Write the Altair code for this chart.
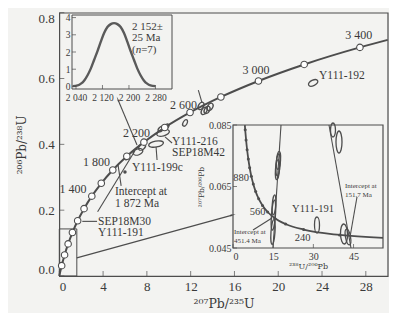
import altair as alt
import pandas as pd

SERIF = "Liberation Serif"
SUPF = "DejaVu Serif"
INK = "#3a3a3a"
LINE = "#4d4d4d"
BG = "#f3f3f1"
W, H = 328.4, 263.3

# ---------------- main concordia (207Pb/235U vs 206Pb/238U)
conc_age = [0, 200, 400, 600, 800, 1000, 1200, 1400, 1600, 1800, 2000, 2200, 2400,
            2600, 2800, 3000, 3200, 3400, 3487]
conc_x = [0.0, 0.2177, 0.4828, 0.8056, 1.1987, 1.6774, 2.2603, 2.9701, 3.8344, 4.8869,
          6.1685, 7.7292, 9.6296, 11.9436, 14.7617, 18.1931, 22.3716, 27.4596, 30.0]
conc_y = [0.0, 0.03151, 0.06402, 0.09754, 0.13213, 0.16781, 0.20460, 0.24256, 0.28174,
          0.32212, 0.36377, 0.40674, 0.45107, 0.49679, 0.54396, 0.59261, 0.64280, 0.69456, 0.7175]

age_lab = ["1 400", "1 800", "2 200", "2 600", "3 000", "3 400"]
age_lab_x = [1.25, 3.40, 7.06, 11.35, 17.98, 27.35]
age_lab_y = [0.2644, 0.3465, 0.4347, 0.5198, 0.6261, 0.7325]

ell_x = [23.19, 12.95, 13.23, 13.50, 13.78, 11.49, 9.48, 8.84, 7.19, 7.56, 9.30, 9.75, 6.19]
ell_y = [0.5866, 0.5167, 0.5015, 0.5046, 0.5137, 0.465, 0.4347, 0.401, 0.377, 0.392, 0.447, 0.453, 0.3587]
ell_w = [10, 8, 8, 8, 8, 7, 13, 15, 10, 8, 7, 7, 5]
ell_h = [5.5, 5, 5, 5, 5, 4, 6, 6, 6, 5, 4, 4, 3]
ell_a = [335, 300, 300, 300, 300, 300, 345, 350, 340, 320, 320, 320, 330]

dot_x = [6.0]
dot_y = [0.316]

note_txt = ["Y111-192", "Y111-216", "SEP18M42", "Y111-199c", "Intercept at", "1 872 Ma",
            "SEP18M30", "Y111-191"]
note_x = [23.73, 10.3, 10.3, 6.645, 5.09, 5.09, 3.54, 3.54]
note_y = [0.6079, 0.4060, 0.3725, 0.3283, 0.2565, 0.2188, 0.1650, 0.1320]

seg_x1 = [9.66, 8.84, 2.10, 5.65, 12.70, 3.50, 7.10, 1.60]
seg_y1 = [0.4225, 0.3921, 0.166, 0.2740, 0.565, 0.195, 0.398, 0.055]
seg_x2 = [10.30, 8.93, 3.45, 5.37, 13.04, 6.90, 5.37, 15.80]
seg_y2 = [0.404, 0.3526, 0.166, 0.337, 0.526, 0.380, 0.535, 0.185]

arrow_x = [5.37, 15.80]
arrow_y = [0.535, 0.185]
arrow_ang = [337, 74]

zoom_box = [0.0, 1.6, 0.0, 0.143]

x_ticks = [0, 4, 8, 12, 16, 20, 24, 28]
y_ticks = [0.0, 0.2, 0.4, 0.6, 0.8]

# ---------------- inset 1: age probability curve
pdf_age = [2030, 2045, 2055, 2065, 2075, 2085, 2095, 2105, 2115, 2125, 2135, 2145, 2155,
           2165, 2175, 2185, 2195, 2205, 2215, 2225, 2235, 2245, 2255, 2265, 2280]
pdf_val = [0.015, 0.06, 0.16, 0.35, 0.65, 1.05, 1.55, 2.05, 2.6, 3.1, 3.45, 3.62, 3.68,
           3.62, 3.45, 3.1, 2.6, 2.05, 1.55, 1.05, 0.65, 0.35, 0.16, 0.06, 0.015]
i1_xticks = [2040, 2120, 2200, 2280]
i1_yticks = [0, 1, 2, 3, 4]
i1_dom_x = [2028, 2330]
i1_dom_y = [-0.15, 4.15]

# ---------------- inset 2: Tera-Wasserburg
tw_age = [114, 160, 240, 320, 400, 480, 560, 640, 720, 800, 880, 960, 1040, 1120, 1200, 1280, 1315]
tw_x = [56.0, 39.79, 26.36, 19.649, 15.621, 12.936, 11.019, 9.581, 8.463, 7.568, 6.837,
        6.227, 5.712, 5.270, 4.888, 4.553, 4.419]
tw_y = [0.04830, 0.049255, 0.05098, 0.052794, 0.054700, 0.056705, 0.05881, 0.061022,
        0.063350, 0.065798, 0.06837, 0.071090, 0.073946, 0.076954, 0.080123, 0.083461, 0.084976]
i2_dom_x = [0, 56]
i2_dom_y = [0.045, 0.085]
i2_xticks = [0, 15, 30, 45]
i2_yticks = [0.045, 0.065, 0.085]

tw_lab = ["880", "560", "240", "Y111-191"]
tw_lab_x = [2.99, 9.15, 25.95, 29.87]
tw_lab_y = [0.06776, 0.0567, 0.04825, 0.05768]

tw_note = ["Intercept at", "451.4 Ma", "Intercept at", "151.7 Ma"]
tw_note_x = [0.37, 0.37, 41.8, 41.8]
tw_note_y = [0.0502, 0.04728, 0.06516, 0.06224]

tw_seg_x1 = [17.92, 35.84, 7.47, 46.29]
tw_seg_y1 = [0.085, 0.085, 0.05085, 0.06159]
tw_seg_x2 = [14.93, 44.05, 14.56, 43.68]
tw_seg_y2 = [0.045, 0.045, 0.05476, 0.04858]

tw_ell_x = [16.8, 16.6, 17.0, 15.1, 14.93, 15.3, 31.36, 37.33, 39.57, 41.44, 42.93]
tw_ell_y = [0.0720, 0.0705, 0.0735, 0.0557, 0.0502, 0.0590, 0.05248, 0.08337, 0.07947, 0.04955, 0.04858]
tw_ell_w = [22, 20, 18, 30, 25, 20, 16, 14, 22, 20, 16]
tw_ell_h = [4, 4, 4, 4, 4, 3.5, 5, 5, 6, 7, 5]
tw_ell_a = [94, 94, 94, 94, 94, 94, 90, 90, 90, 88, 80]


def ellipse_df(xs, ys, ws, hs, angs):
    return pd.DataFrame({
        "x": xs, "y": ys,
        "shape": [f"M-1,0A1,{h / w:.3f},0,1,1,1,0A1,{h / w:.3f},0,1,1,-1,0Z" for w, h in zip(ws, hs)],
        "size": [w * w for w in ws],
        "ang": angs,
    })


def enc(xsc, ysc, xaxis=None, yaxis=None):
    return dict(
        x=alt.X("x:Q", scale=xsc, axis=xaxis),
        y=alt.Y("y:Q", scale=ysc, axis=yaxis),
    )


def box_df(dx, dy):
    return pd.DataFrame({"x": [dx[0]], "x2": [dx[1]], "y": [dy[0]], "y2": [dy[1]]})


layers = []

# ======================= MAIN =======================
xs_m = alt.Scale(domain=[0, 30], nice=False, zero=False)
ys_m = alt.Scale(domain=[0, 0.8], nice=False, zero=False)

conc_df = pd.DataFrame({"age": conc_age, "x": conc_x, "y": conc_y})
circ_df = conc_df[(conc_df.age > 0) & (conc_df.age <= 3400)]

main_xaxis = alt.Axis(values=x_ticks, title="²⁰⁷Pb/²³⁵U", orient="bottom", ticks=False,
                      domain=False, grid=False, labelFontSize=13, titleFontSize=12.5,
                      titleFont=SUPF, labelPadding=4, titlePadding=4, titleFontWeight="normal")
main_yaxis = alt.Axis(values=y_ticks, format=".1f", title="²⁰⁶Pb/²³⁸U", orient="left",
                      ticks=False, domain=False, grid=False, labelFontSize=13, labelFlush=True,
                      titleFontSize=12, titleFont=SUPF, labelPadding=5, titlePadding=10,
                      titleFontWeight="normal")

layers.append(alt.Chart(conc_df).mark_line(color=LINE, strokeWidth=2, interpolate="monotone").encode(
    **enc(xs_m, ys_m, main_xaxis, main_yaxis)))
layers.append(alt.Chart(pd.DataFrame({"x": seg_x1, "y": seg_y1, "x2": seg_x2, "y2": seg_y2})).mark_rule(
    color=LINE, strokeWidth=1.1).encode(**enc(xs_m, ys_m), x2="x2:Q", y2="y2:Q"))
layers.append(alt.Chart(box_df(zoom_box[:2], zoom_box[2:])).mark_rect(
    fillOpacity=0, stroke=LINE, strokeWidth=1).encode(**enc(xs_m, ys_m), x2="x2:Q", y2="y2:Q"))
layers.append(alt.Chart(ellipse_df(ell_x, ell_y, ell_w, ell_h, ell_a)).mark_point(
    filled=False, stroke=LINE, strokeWidth=1.3, opacity=1).encode(
    **enc(xs_m, ys_m),
    shape=alt.Shape("shape:N", scale=None),
    size=alt.Size("size:Q", scale=None),
    angle=alt.Angle("ang:Q", scale=None)))
layers.append(alt.Chart(pd.DataFrame({"x": dot_x, "y": dot_y})).mark_point(
    shape="circle", size=12, filled=True, color=LINE, opacity=1).encode(**enc(xs_m, ys_m)))
layers.append(alt.Chart(circ_df).mark_point(shape="circle", size=42, filled=True, fill="white",
                                            stroke=LINE, strokeWidth=1.1, opacity=1,
                                            fillOpacity=1).encode(**enc(xs_m, ys_m)))
layers.append(alt.Chart(pd.DataFrame({"x": arrow_x, "y": arrow_y, "ang": arrow_ang})).mark_point(
    shape="wedge", size=40, filled=True, color=LINE, opacity=1).encode(
    **enc(xs_m, ys_m), angle=alt.Angle("ang:Q", scale=None)))
layers.append(alt.Chart(pd.DataFrame({"x": age_lab_x, "y": age_lab_y, "t": age_lab})).mark_text(
    font=SERIF, fontSize=12, color=INK, align="center", baseline="middle").encode(
    **enc(xs_m, ys_m), text="t:N"))
layers.append(alt.Chart(pd.DataFrame({"x": note_x, "y": note_y, "t": note_txt})).mark_text(
    font=SERIF, fontSize=11.5, color=INK, align="left", baseline="middle").encode(
    **enc(xs_m, ys_m), text="t:N"))
layers.append(alt.Chart(pd.DataFrame({"x": x_ticks, "y": [0] * len(x_ticks)})).mark_tick(
    orient="vertical", size=5, thickness=1, color=LINE, yOffset=-2.5).encode(**enc(xs_m, ys_m)))
layers.append(alt.Chart(pd.DataFrame({"x": [0] * len(y_ticks), "y": y_ticks})).mark_tick(
    orient="horizontal", size=5, thickness=1, color=LINE, xOffset=2.5).encode(**enc(xs_m, ys_m)))

# ======================= INSET 1 =======================
xs_1 = alt.Scale(domain=i1_dom_x, range=[12.7, 112.7], nice=False, zero=False)
ys_1 = alt.Scale(domain=i1_dom_y, range=[76.3, 2.3], nice=False, zero=False)
i1_xaxis = alt.Axis(values=i1_xticks, orient="bottom", offset=-(H - 76.3), title=None,
                    ticks=False, domain=False, grid=False, labelFontSize=9.5, labelPadding=3,
                    labelExpr="replace(format(datum.value, ','), ',', ' ')")
i1_yaxis = alt.Axis(values=i1_yticks, orient="left", offset=-12.7, title=None, ticks=False,
                    domain=False, grid=False, labelFontSize=9.5, labelPadding=2, format="d")
layers.append(alt.Chart(pd.DataFrame({"x": pdf_age, "y": pdf_val})).mark_line(
    color="#5a5a5a", strokeWidth=2.4, interpolate="monotone").encode(
    **enc(xs_1, ys_1, i1_xaxis, i1_yaxis)))
layers.append(alt.Chart(box_df(i1_dom_x, i1_dom_y)).mark_rect(
    fillOpacity=0, stroke=LINE, strokeWidth=1).encode(**enc(xs_1, ys_1), x2="x2:Q", y2="y2:Q"))
layers.append(alt.Chart(pd.DataFrame({"x": i1_xticks, "y": [i1_dom_y[0]] * 4})).mark_tick(
    orient="vertical", size=4, thickness=1, color=LINE, yOffset=-2).encode(**enc(xs_1, ys_1)))
layers.append(alt.Chart(pd.DataFrame({"x": [i1_dom_x[0]] * 5, "y": i1_yticks})).mark_tick(
    orient="horizontal", size=4, thickness=1, color=LINE, xOffset=2).encode(**enc(xs_1, ys_1)))
layers.append(alt.Chart(pd.DataFrame({"x": [2209, 2209], "y": [3.45, 2.81], "t": ["2 152±", "25 Ma"]})).mark_text(
    font=SERIF, fontSize=11, color=INK, align="left", baseline="middle").encode(
    **enc(xs_1, ys_1), text="t:N"))
for t, dx, style in [("(", 0, "normal"), ("n", 3.7, "italic"), ("=7)", 9.2, "normal")]:
    layers.append(alt.Chart(pd.DataFrame({"x": [2209], "y": [2.12], "t": [t]})).mark_text(
        font=SERIF, fontSize=11, color=INK, align="left", baseline="middle", fontStyle=style,
        dx=dx).encode(**enc(xs_1, ys_1), text="t:N"))

# ======================= INSET 2 =======================
xs_2 = alt.Scale(domain=i2_dom_x, range=[173.7, 323.7], nice=False, zero=False)
ys_2 = alt.Scale(domain=i2_dom_y, range=[235.3, 112.3], nice=False, zero=False)
i2_xaxis = alt.Axis(values=i2_xticks, orient="bottom", offset=-(H - 235.3), title="²³⁸U/²⁰⁶Pb",
                    ticks=False, domain=False, grid=False, labelFontSize=10, labelPadding=3,
                    titleFont=SUPF, titleFontSize=8, titlePadding=1, titleFontWeight="normal")
i2_yaxis = alt.Axis(values=i2_yticks, orient="left", offset=-173.7, title="²⁰⁷Pb/²⁰⁶Pb",
                    ticks=False, domain=False, grid=False, labelFontSize=10, labelPadding=2,
                    format=".3f", titleFont=SUPF, titleFontSize=7.5, titlePadding=3,
                    titleFontWeight="normal")
tw_df = pd.DataFrame({"age": tw_age, "x": tw_x, "y": tw_y})
layers.append(alt.Chart(tw_df).mark_line(color=LINE, strokeWidth=1.8, interpolate="monotone").encode(
    **enc(xs_2, ys_2, i2_xaxis, i2_yaxis)))
layers.append(alt.Chart(pd.DataFrame({"x": tw_seg_x1, "y": tw_seg_y1, "x2": tw_seg_x2, "y2": tw_seg_y2})).mark_rule(
    color=LINE, strokeWidth=1.1).encode(**enc(xs_2, ys_2), x2="x2:Q", y2="y2:Q"))
layers.append(alt.Chart(ellipse_df(tw_ell_x, tw_ell_y, tw_ell_w, tw_ell_h, tw_ell_a)).mark_point(
    filled=False, stroke=LINE, strokeWidth=1.3, opacity=1).encode(
    **enc(xs_2, ys_2),
    shape=alt.Shape("shape:N", scale=None),
    size=alt.Size("size:Q", scale=None),
    angle=alt.Angle("ang:Q", scale=None)))
layers.append(alt.Chart(tw_df[(tw_df.age >= 160) & (tw_df.age <= 1280)]).mark_point(
    shape="circle", size=9, filled=True, color=LINE, opacity=1).encode(**enc(xs_2, ys_2)))
layers.append(alt.Chart(box_df(i2_dom_x, i2_dom_y)).mark_rect(
    fillOpacity=0, stroke=LINE, strokeWidth=1.2).encode(**enc(xs_2, ys_2), x2="x2:Q", y2="y2:Q"))
layers.append(alt.Chart(pd.DataFrame({"x": i2_xticks, "y": [i2_dom_y[0]] * 4})).mark_tick(
    orient="vertical", size=4, thickness=1, color=LINE, yOffset=-2).encode(**enc(xs_2, ys_2)))
layers.append(alt.Chart(pd.DataFrame({"x": [i2_dom_x[0]] * 3, "y": i2_yticks})).mark_tick(
    orient="horizontal", size=4, thickness=1, color=LINE, xOffset=2).encode(**enc(xs_2, ys_2)))
layers.append(alt.Chart(pd.DataFrame({"x": tw_lab_x, "y": tw_lab_y, "t": tw_lab})).mark_text(
    font=SERIF, fontSize=10.5, color=INK, align="center", baseline="middle").encode(
    **enc(xs_2, ys_2), text="t:N"))
layers.append(alt.Chart(pd.DataFrame({"x": tw_note_x, "y": tw_note_y, "t": tw_note})).mark_text(
    font=SERIF, fontSize=7, color=INK, align="left", baseline="middle").encode(
    **enc(xs_2, ys_2), text="t:N"))

chart = alt.layer(*layers).resolve_scale(
    x="independent", y="independent").properties(
    width=W, height=H,
    autosize=alt.AutoSizeParams(type="none"),
    padding={"left": 51.3, "top": 4.7, "right": 1.3, "bottom": 37},
    background=BG,
).configure_view(stroke=LINE, strokeWidth=1.2).configure_axis(
    labelFont=SERIF, titleFont=SERIF, labelColor=INK, titleColor=INK)

chart.save("out.html", embed_options={"renderer": "svg", "actions": False})
